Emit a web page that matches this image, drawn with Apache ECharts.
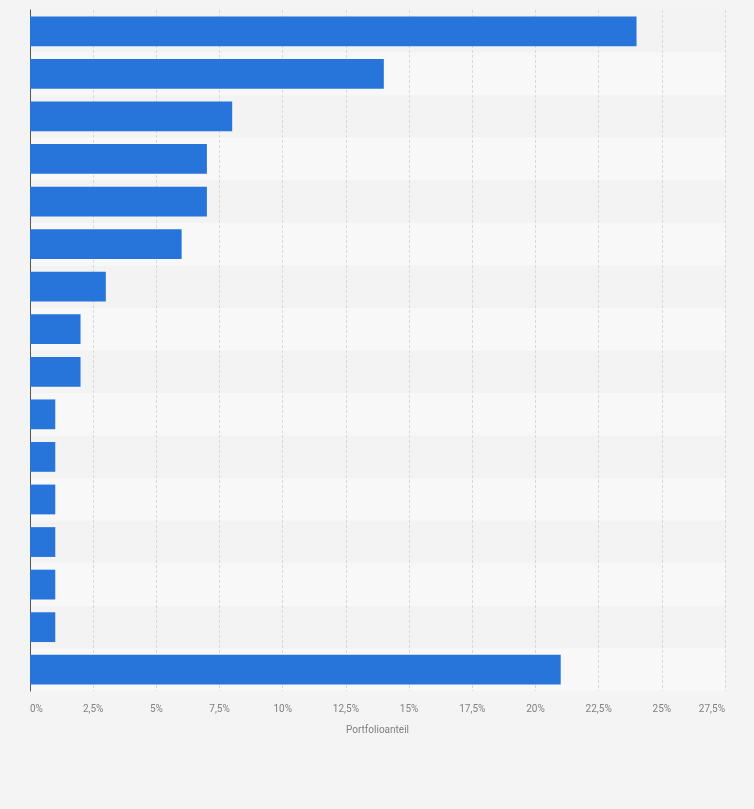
<!DOCTYPE html>
<html>
<head>
<meta charset="utf-8">
<script src="https://cdn.jsdelivr.net/npm/echarts@6/dist/echarts.min.js"></script>
<style>
  html, body { margin: 0; padding: 0; background: #f4f4f4; }
  #chart { width: 754px; height: 809px; }
</style>
</head>
<body>
<div id="chart"></div>
<script>
// Portfolio positions (names are not shown in the chart)
const categories = ['Position 1', 'Position 2', 'Position 3', 'Position 4', 'Position 5', 'Position 6',
    'Position 7', 'Position 8', 'Position 9', 'Position 10', 'Position 11', 'Position 12',
    'Position 13', 'Position 14', 'Position 15', 'Sonstige'];
const shares = [24, 14, 8, 7, 7, 6, 3, 2, 2, 1, 1, 1, 1, 1, 1, 21];
const axisTitle = 'Portfolioanteil';

let chart = echarts.init(document.getElementById('chart'));

chart.setOption({
    backgroundColor: '#f4f4f4',
    animation: false,
    grid: { left: 30, right: 29, top: 10, bottom: 118 },
    xAxis: {
        type: 'value',
        min: 0,
        max: 27.5,
        interval: 2.5,
        name: axisTitle,
        nameLocation: 'middle',
        nameGap: 34,
        nameTextStyle: { color: '#808080', fontSize: 10, fontFamily: 'Roboto' },
        axisLine: { show: false },
        axisTick: { show: false },
        axisLabel: {
            color: '#808080',
            fontSize: 10,
            fontFamily: 'Roboto',
            margin: 13,
            alignMinLabel: 'left',
            alignMaxLabel: 'right',
            formatter: v => String(v).replace('.', ',') + '%'
        },
        splitLine: { lineStyle: { color: '#d8d8d8', type: [3, 2] } }
    },
    yAxis: {
        type: 'category',
        inverse: true,
        data: categories,
        axisLabel: { show: false },
        axisTick: { show: false },
        axisLine: { lineStyle: { color: '#555', width: 1 } },
        splitArea: { show: true, areaStyle: { color: ['#f3f3f3', '#f8f8f8'] } }
    },
    series: [{
        type: 'bar',
        data: shares,
        barCategoryGap: '30%',
        itemStyle: { color: '#2775db' }
    }]
});
</script>
</body>
</html>
